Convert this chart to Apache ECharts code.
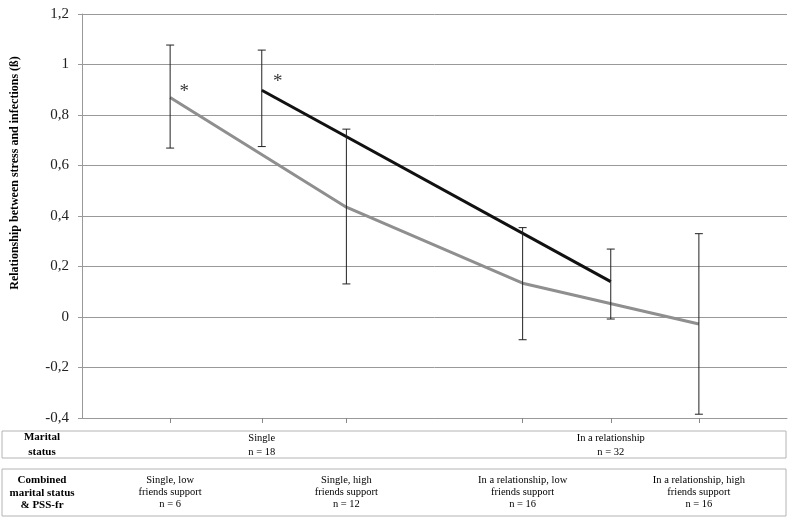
<!DOCTYPE html>
<html>
<head>
<meta charset="utf-8">
<script src="https://cdn.jsdelivr.net/npm/echarts@6/dist/echarts.min.js"></script>
<style>html,body{margin:0;padding:0;background:#fff}#c{width:789px;height:526px}</style>
</head>
<body>
<div id="c"></div>
<script>
// x positions of groups along the axis (1..7 scale)
const groupX = [1, 3, 5, 7];            // combined marital status & PSS-fr groups
const maritalX = [2.04, 6];              // marital status groups
// Gray line: combined groups (beta)
const combinedBeta = [0.869, 0.435, 0.134, -0.028];
const combinedLow  = [0.669, 0.131, -0.09, -0.385];
const combinedHigh = [1.077, 0.744, 0.354, 0.33];
// Black line: marital status (beta)
const maritalBeta = [0.898, 0.14];
const maritalLow  = [0.675, -0.008];
const maritalHigh = [1.057, 0.269];
// significance markers
const combinedSig = [true, false, false, false];
const maritalSig = [true, false];
// y-axis ticks
const yMin = -0.4, yMax = 1.2, yStep = 0.2;
// table labels
const rowHeaders = ['Marital\nstatus', 'Combined\nmarital status\n& PSS-fr'];
const maritalLabels = ['Single\nn = 18', 'In a relationship\nn = 32'];
const combinedLabels = ['Single, low\nfriends support\nn = 6', 'Single, high\nfriends support\nn = 12',
  'In a relationship, low\nfriends support\nn = 16', 'In a relationship, high\nfriends support\nn = 16'];
const yName = 'Relationship between stress and infections (\u00df)';

const SERIF = '"Liberation Serif","Times New Roman",serif';
const chart = echarts.init(document.getElementById('c'));

const gridLeft = 82, gridRight = 2, gridTop = 14, gridBottom = 108;
const plotW = 789 - gridLeft - gridRight;
const xToPx = v => gridLeft + v / 8 * plotW;

const grayData = groupX.map((x, i) => [x, combinedBeta[i]]);
const blackData = maritalX.map((x, i) => [x, maritalBeta[i]]);
const errData = [];
groupX.forEach((x, i) => errData.push([x, combinedLow[i], combinedHigh[i]]));
maritalX.forEach((x, i) => errData.push([x, maritalLow[i], maritalHigh[i]]));
const starData = [];
groupX.forEach((x, i) => { if (combinedSig[i]) starData.push({ value: [x, combinedBeta[i]], label: { offset: [14, -6] } }); });
maritalX.forEach((x, i) => { if (maritalSig[i]) starData.push({ value: [x, maritalBeta[i]], label: { offset: [16, -8] } }); });

const graphic = [];
graphic.push({ type: 'text', x: 15, y: 173, rotation: Math.PI / 2,
  style: { text: yName, font: 'bold 12px ' + SERIF, fill: '#000', align: 'center', verticalAlign: 'middle' } });
graphic.push({ type: 'rect', shape: { x: 2, y: 431, width: 784, height: 27 }, style: { fill: 'none', stroke: '#b4b4b4', lineWidth: 1 } });
graphic.push({ type: 'rect', shape: { x: 2, y: 469, width: 784, height: 47 }, style: { fill: 'none', stroke: '#b4b4b4', lineWidth: 1 } });
graphic.push({ type: 'text', x: 42, y: 445, style: { text: rowHeaders[0], font: 'bold 11px ' + SERIF, lineHeight: 15, fill: '#000', align: 'center', verticalAlign: 'middle' } });
graphic.push({ type: 'text', x: 42, y: 493, style: { text: rowHeaders[1], font: 'bold 11px ' + SERIF, lineHeight: 12.5, fill: '#000', align: 'center', verticalAlign: 'middle' } });
maritalX.forEach((x, i) => graphic.push({ type: 'text', x: xToPx(x), y: 445,
  style: { text: maritalLabels[i], font: '10.5px ' + SERIF, lineHeight: 14, fill: '#000', align: 'center', verticalAlign: 'middle' } }));
groupX.forEach((x, i) => graphic.push({ type: 'text', x: xToPx(x), y: 492.5,
  style: { text: combinedLabels[i], font: '10.5px ' + SERIF, lineHeight: 12, fill: '#000', align: 'center', verticalAlign: 'middle' } }));

chart.setOption({
  animation: false,
  backgroundColor: '#fff',
  grid: { left: gridLeft, right: gridRight, top: gridTop, bottom: gridBottom, containLabel: false },
  xAxis: {
    type: 'value', min: 0, max: 8,
    axisLine: { show: true, onZero: false, lineStyle: { color: '#999', width: 1 } },
    axisTick: { show: true, length: 5, inside: false, customValues: groupX.concat(maritalX), lineStyle: { color: '#888' } },
    axisLabel: { show: false },
    splitLine: { show: false }
  },
  yAxis: {
    type: 'value', min: yMin, max: yMax, interval: yStep,
    axisLine: { show: true, lineStyle: { color: '#999' } },
    axisTick: { show: true, length: 4, lineStyle: { color: '#999' } },
    axisLabel: { margin: 13, color: '#222', fontFamily: SERIF, fontSize: 15,
      formatter: v => String(+v.toFixed(1)).replace('.', ',') },
    splitLine: { show: true, lineStyle: { color: '#999', width: 1 } }
  },
  graphic: graphic,
  series: [
    { type: 'line', data: grayData, symbol: 'none', lineStyle: { color: '#8f8f8f', width: 3 }, z: 3 },
    { type: 'line', data: blackData, symbol: 'none', lineStyle: { color: '#111', width: 3 }, z: 4 },
    { type: 'custom', data: errData, z: 5,
      renderItem: (params, api) => {
        const x = api.value(0);
        const lo = api.coord([x, api.value(1)]);
        const hi = api.coord([x, api.value(2)]);
        const w = 4;
        const st = { stroke: '#222', lineWidth: 1 };
        return { type: 'group', children: [
          { type: 'line', shape: { x1: lo[0], y1: lo[1], x2: hi[0], y2: hi[1] }, style: st },
          { type: 'line', shape: { x1: lo[0] - w, y1: lo[1], x2: lo[0] + w, y2: lo[1] }, style: st },
          { type: 'line', shape: { x1: hi[0] - w, y1: hi[1], x2: hi[0] + w, y2: hi[1] }, style: st }
        ] };
      } },
    { type: 'scatter', data: starData, symbolSize: 0, z: 6,
      label: { show: true, formatter: '*', position: 'inside', color: '#000', fontFamily: SERIF, fontSize: 19 } }
  ]
});
</script>
</body>
</html>
